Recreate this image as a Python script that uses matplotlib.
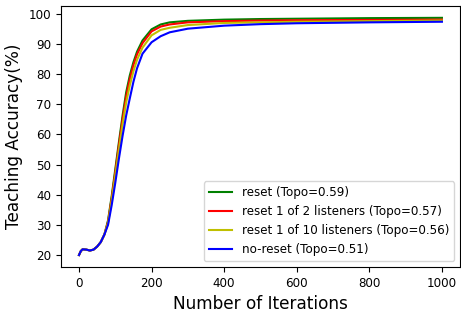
import matplotlib
matplotlib.use("Agg")
import matplotlib.pyplot as plt

# iterations at which values were read
iters = [0, 5, 10, 20, 30, 40, 50, 60, 70, 80, 90, 100, 110, 120, 130, 140, 150,
         160, 175, 200, 225, 250, 300, 400, 500, 600, 800, 1000]

early = [20.0, 21.3, 21.9, 21.8, 21.5, 21.8, 22.8, 24.3, 26.8]

reset = early + [31.5, 39.5, 48.5, 57.5, 66.2, 74.0, 79.6, 84.0, 87.5, 91.2,
                 94.9, 96.5, 97.2, 97.7, 98.1, 98.3, 98.4, 98.6, 98.7]
reset_2 = early + [31.0, 38.8, 47.5, 56.5, 65.0, 72.6, 78.4, 83.0, 86.6, 90.3,
                   94.2, 95.8, 96.5, 97.2, 97.6, 97.8, 97.9, 98.0, 98.1]
reset_10 = early + [30.6, 38.0, 46.3, 55.0, 63.2, 70.6, 76.3, 81.0, 84.8, 88.8,
                    92.9, 94.7, 95.4, 96.3, 97.0, 97.2, 97.4, 97.6, 97.8]
no_reset = early + [30.0, 36.5, 44.0, 52.0, 59.5, 66.3, 72.0, 77.5, 82.0, 86.8,
                    90.6, 92.6, 93.9, 95.1, 96.1, 96.6, 96.9, 97.2, 97.4]

labels = ["reset (Topo=0.59)",
          "reset 1 of 2 listeners (Topo=0.57)",
          "reset 1 of 10 listeners (Topo=0.56)",
          "no-reset (Topo=0.51)"]
colors = ["g", "r", "y", "b"]

fig = plt.figure(figsize=(4.61, 3.14), dpi=100)
ax = fig.add_axes([0.132, 0.150, 0.866, 0.831])

for ys, lab, c in zip([reset, reset_2, reset_10, no_reset], labels, colors):
    ax.plot(iters, ys, color=c, lw=1.5, label=lab)

ax.set_xticks([0, 200, 400, 600, 800, 1000])
ax.set_yticks(range(20, 101, 10))
ax.tick_params(labelsize=8.6)
ax.set_xlabel("Number of Iterations", fontsize=12.2)
ax.set_ylabel("Teaching Accuracy(%)", fontsize=12.2)
ax.legend(loc="lower right", fontsize=8.6)

fig.savefig("out.png", dpi=100)
